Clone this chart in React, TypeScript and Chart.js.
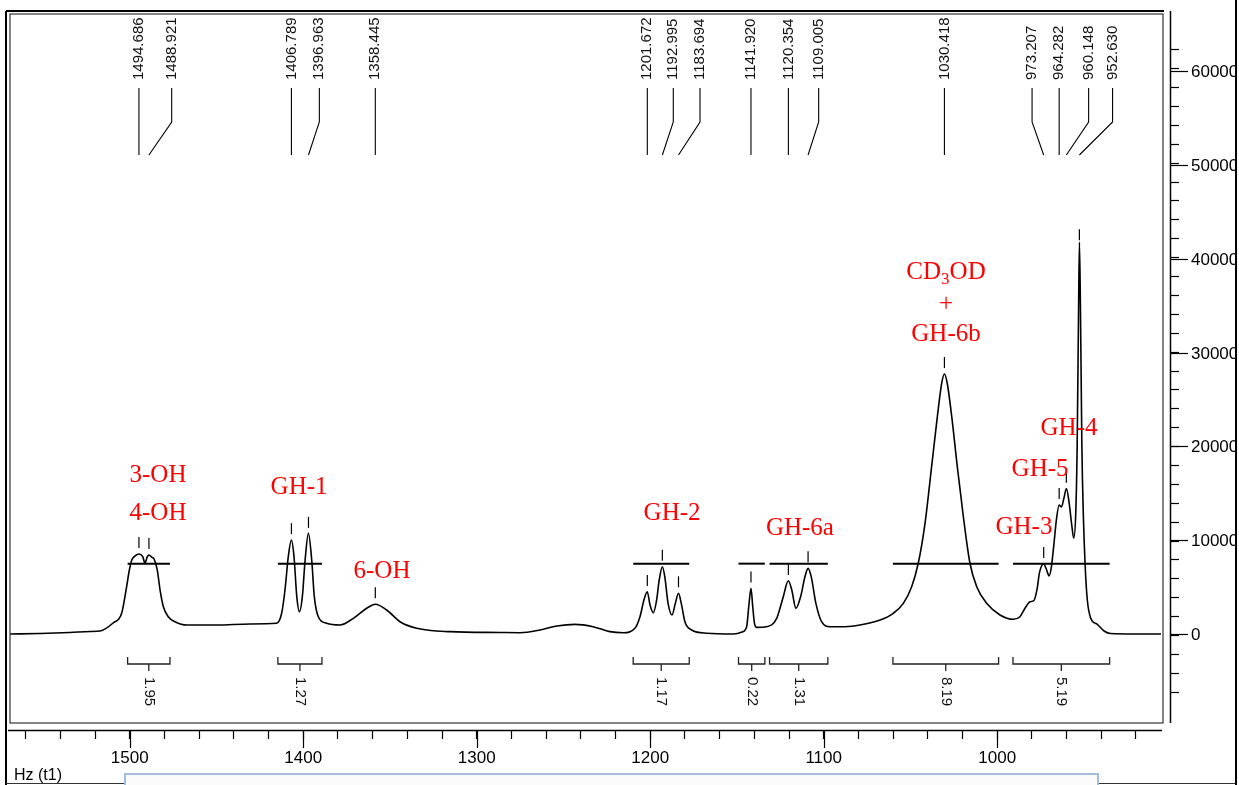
import { useEffect, useRef } from "react";
import { Chart, registerables } from "chart.js";

Chart.register(...registerables);

// Spectrum trace (Hz, intensity)
const spectrumHz = [
  1569, 1551.7, 1534.4, 1522.9, 1517.1, 1509.6, 1504.6, 1502.1, 1500.2, 1498.8, 1496.9, 1494.7, 1492.5, 1491.2,
  1489.9, 1488.9, 1487.1, 1486.0, 1484.1, 1482.5, 1480.6, 1477.8, 1473.9, 1467.1, 1449.9, 1430.7, 1415.3, 1412.4,
  1410.5, 1408.6, 1406.8, 1405.3, 1403.7, 1402.2, 1400.5, 1398.9, 1397.0, 1395.1, 1393.6, 1391.3, 1386.5, 1378.8,
  1371.1, 1363.4, 1358.4, 1351.9, 1344.2, 1334.6, 1315.4, 1286.6, 1275.0, 1263.5, 1253.9, 1243.4, 1232.9, 1223.2,
  1215.5, 1208.8, 1205.9, 1203.6, 1201.7, 1200.1, 1198.2, 1196.3, 1194.8, 1193.0, 1191.6, 1189.7, 1187.4, 1185.5,
  1183.7, 1182.1, 1180.0, 1176.1, 1167.4, 1152.1, 1147.1, 1144.4, 1143.2, 1141.9, 1140.9, 1139.9, 1138.6, 1132.9,
  1127.1, 1123.3, 1120.4, 1118.4, 1116.0, 1113.3, 1110.8, 1109.0, 1107.2, 1104.5, 1101.2, 1096.4, 1087.7, 1079.1,
  1067.5, 1059.9, 1054.1, 1049.3, 1045.5, 1041.6, 1037.8, 1034.5, 1032.0, 1030.4, 1028.8, 1026.2, 1023.0, 1019.5,
  1015.7, 1011.8, 1006.1, 998.4, 990.7, 986.9, 984.0, 981.1, 978.8, 977.0, 975.6, 973.2, 971.7, 970.1, 968.8,
  967.4, 965.8, 964.3, 963.0, 961.6, 960.1, 958.6, 957.0, 955.9, 954.7, 953.9, 953.1, 952.6, 952.0, 951.2, 950.4,
  949.3, 948.1, 946.2, 942.3, 938.4, 934.6, 921.2, 905.6,
];
const spectrumIntensity = [
  0, 50, 160, 270, 320, 1170, 2240, 4690, 6820, 7890, 8320, 8530, 8240, 7570,
  8210, 8420, 8160, 8000, 6820, 4690, 2910, 1840, 1310, 960, 960, 1070, 1140, 2240,
  4690, 8240, 10020, 8240, 3980, 2380, 3980, 7890, 10730, 7890, 3980, 1840, 1140, 960,
  1670, 2740, 3170, 2560, 1310, 610, 250, 160, 140, 430, 850, 1030, 780, 250,
  140, 610, 1840, 3620, 4510, 3090, 2270, 3620, 5760, 7170, 6110, 3270, 2030, 3270,
  4340, 3270, 1310, 430, 80, 0, 210, 780, 2910, 4870, 2910, 1140, 710, 780,
  1670, 3980, 5680, 4690, 2740, 3980, 6110, 7000, 6110, 3270, 1310, 780, 780, 960,
  1490, 2210, 3270, 5040, 7540, 11800, 17840, 23170, 26730, 27720, 26730, 23170, 17840, 12500,
  7540, 5040, 3270, 2030, 1570, 1840, 2740, 3440, 3570, 4800, 6570, 7460, 6930, 6200, 7100,
  9420, 12290, 13750, 13540, 14430, 15510, 14070, 11580, 10210, 13000, 20160, 34460, 41790, 34460, 20160, 13000,
  7280, 3700, 1740, 1020, 320, 50, 0, 0,
];

// Picked peaks and where their labels sit along the top
const peakHz = [
  1494.686, 1488.921, 1406.789, 1396.963, 1358.445, 1201.672, 1192.995, 1183.694, 1141.92, 1120.354, 1109.005,
  1030.418, 973.207, 964.282, 960.148, 952.63,
];
const peakLabelHz = [
  1494.686, 1475.8, 1406.789, 1390.7, 1358.445, 1201.672, 1186.7, 1171.3, 1141.92, 1120.354, 1102.9,
  1030.418, 979.9, 964.282, 947.3, 933.5,
];

// Integrals
const integralStartHz = [1501.2, 1414.6, 1209.8, 1149.1, 1131.2, 1060.1, 990.9];
const integralEndHz = [1476.8, 1389.2, 1177.5, 1133.9, 1097.6, 999.2, 935.2];
const integralValues = [1.95, 1.27, 1.17, 0.22, 1.31, 8.19, 5.19];
const integralLevel = 7500;

// Assignments (red)
const annotationText = ["3-OH", "4-OH", "GH-1", "6-OH", "GH-2", "GH-6a", "CD3OD", "+", "GH-6b", "GH-4", "GH-5", "GH-3"];
const annotationHz = [1483.7, 1483.7, 1402.4, 1354.6, 1187.4, 1113.7, 1029.5, 1029.5, 1029.5, 958.6, 975.3, 984.6];
const annotationLevel = [17100, 13000, 15800, 6800, 13000, 11400, 38700, 35300, 32100, 22100, 17700, 11500];

// Axes
const xMinHz = 900.4;
const xMaxHz = 1569;
const xMinorStep = 20;
const xMajorStep = 100;
const yMin = -10235;
const yMax = 66311;
const yMinorStep = 2000;
const yMajorStep = 10000;
const yTickLabels = ["0", "10000", "20000", "30000", "40000", "50000", "60000"];
const xAxisTitle = "Hz (t1)";

const SANS = '"Liberation Sans", Arial, sans-serif';
const SERIF = '"Liberation Serif", "Times New Roman", serif';

function valueAt(hz: number): number {
  for (let i = 0; i < spectrumHz.length - 1; i++) {
    const a = spectrumHz[i];
    const b = spectrumHz[i + 1];
    if ((hz <= a && hz >= b) || (hz >= a && hz <= b)) {
      const t = a === b ? 0 : (hz - a) / (b - a);
      return spectrumIntensity[i] + t * (spectrumIntensity[i + 1] - spectrumIntensity[i]);
    }
  }
  return 0;
}

function line(ctx: CanvasRenderingContext2D, x1: number, y1: number, x2: number, y2: number) {
  ctx.beginPath();
  ctx.moveTo(x1, y1);
  ctx.lineTo(x2, y2);
  ctx.stroke();
}

const decorPlugin = {
  id: "nmrDecor",
  beforeDraw(chart: any) {
    const ctx = chart.ctx;
    ctx.save();
    ctx.fillStyle = "#ffffff";
    ctx.fillRect(0, 0, chart.width, chart.height);
    ctx.restore();
  },
  afterDraw(chart: any) {
    const ctx: CanvasRenderingContext2D = chart.ctx;
    const xs = chart.scales.x;
    const ys = chart.scales.y;
    const W = chart.width;
    const H = chart.height;
    const frameRight = 1163;
    const frameBottom = 723;
    ctx.save();

    // major tick extensions + y labels
    ctx.strokeStyle = "#000";
    ctx.lineWidth = 1.2;
    for (let v = Math.ceil(xMinHz / xMajorStep) * xMajorStep; v <= xMaxHz; v += xMajorStep) {
      const px = Math.round(xs.getPixelForValue(v)) + 0.5;
      line(ctx, px, xs.top, px, xs.top + 18);
    }
    ctx.fillStyle = "#000";
    ctx.font = `17px ${SANS}`;
    ctx.textAlign = "left";
    ctx.textBaseline = "middle";
    yTickLabels.forEach((lab) => {
      const v = Number(lab);
      const py = Math.round(ys.getPixelForValue(v)) + 0.5;
      line(ctx, ys.left, py, ys.left + 18, py);
      ctx.fillText(lab, ys.left + 21, py + 1);
    });

    // axis lines
    ctx.lineWidth = 1.5;
    line(ctx, 8, xs.top + 0.5, frameRight - 1, xs.top + 0.5);
    line(ctx, ys.left + 0.5, 11, ys.left + 0.5, frameBottom);

    // frame
    ctx.strokeStyle = "#000";
    ctx.lineWidth = 2;
    line(ctx, 6, 11, frameRight + 1, 11);
    line(ctx, 6, 11, 6, H);
    ctx.strokeStyle = "#333";
    ctx.lineWidth = 1.2;
    ctx.strokeRect(10, 14, frameRight - 10, frameBottom - 14);

    // integral level lines
    ctx.strokeStyle = "#000";
    ctx.lineWidth = 2;
    const ly = ys.getPixelForValue(integralLevel);
    for (let i = 0; i < integralValues.length; i++) {
      line(ctx, xs.getPixelForValue(integralStartHz[i]), ly, xs.getPixelForValue(integralEndHz[i]), ly);
    }

    // integral brackets + values
    ctx.lineWidth = 1.3;
    ctx.strokeStyle = "#222";
    ctx.fillStyle = "#111";
    ctx.font = `15px ${SANS}`;
    ctx.textAlign = "left";
    ctx.textBaseline = "middle";
    for (let i = 0; i < integralValues.length; i++) {
      const a = xs.getPixelForValue(integralStartHz[i]);
      const b = xs.getPixelForValue(integralEndHz[i]);
      const c = (a + b) / 2;
      ctx.beginPath();
      ctx.moveTo(a, 657);
      ctx.lineTo(a, 664);
      ctx.lineTo(b, 664);
      ctx.lineTo(b, 657);
      ctx.stroke();
      line(ctx, c, 664, c, 671);
      ctx.save();
      ctx.translate(c, 677);
      ctx.rotate(Math.PI / 2);
      ctx.fillText(integralValues[i].toFixed(2), 0, 0);
      ctx.restore();
    }

    // peak labels with leaders
    ctx.strokeStyle = "#000";
    ctx.lineWidth = 1.1;
    ctx.fillStyle = "#111";
    ctx.font = `15px ${SANS}`;
    for (let i = 0; i < peakHz.length; i++) {
      const px = xs.getPixelForValue(peakHz[i]);
      const lx = xs.getPixelForValue(peakLabelHz[i]);
      ctx.beginPath();
      ctx.moveTo(lx, 88);
      ctx.lineTo(lx, 122);
      ctx.lineTo(px, 155);
      ctx.stroke();
      ctx.save();
      ctx.translate(lx, 80);
      ctx.rotate(-Math.PI / 2);
      ctx.textAlign = "left";
      ctx.textBaseline = "middle";
      ctx.fillText(peakHz[i].toFixed(3), 0, 0);
      ctx.restore();
      const top = ys.getPixelForValue(valueAt(peakHz[i]));
      ctx.lineWidth = 1.2;
      line(ctx, px, top - 17, px, top - 6);
      ctx.lineWidth = 1.1;
    }

    // red assignments
    ctx.fillStyle = "#ff0000";
    ctx.textBaseline = "alphabetic";
    for (let i = 0; i < annotationText.length; i++) {
      const cx = xs.getPixelForValue(annotationHz[i]);
      const cy = ys.getPixelForValue(annotationLevel[i]) + 8;
      const t = annotationText[i];
      if (t === "CD3OD") {
        ctx.font = `25px ${SERIF}`;
        const w1 = ctx.measureText("CD").width;
        const w3 = ctx.measureText("OD").width;
        ctx.font = `17px ${SERIF}`;
        const w2 = ctx.measureText("3").width;
        let x0 = cx - (w1 + w2 + w3) / 2;
        ctx.textAlign = "left";
        ctx.font = `25px ${SERIF}`;
        ctx.fillText("CD", x0, cy);
        x0 += w1;
        ctx.font = `17px ${SERIF}`;
        ctx.fillText("3", x0, cy + 5);
        x0 += w2;
        ctx.font = `25px ${SERIF}`;
        ctx.fillText("OD", x0, cy);
      } else {
        ctx.font = `25px ${SERIF}`;
        ctx.textAlign = "center";
        ctx.fillText(t, cx, cy);
      }
    }

    // axis title and bottom bar
    ctx.fillStyle = "#000";
    ctx.font = `16px ${SANS}`;
    ctx.textAlign = "left";
    ctx.textBaseline = "middle";
    ctx.fillText(xAxisTitle, 14, 776);
    ctx.strokeStyle = "#333";
    ctx.lineWidth = 1.2;
    line(ctx, 6, H - 1.5, W - 3, H - 1.5);
    ctx.fillStyle = "#fbfbfb";
    ctx.fillRect(125, 774, 973, 20);
    ctx.strokeStyle = "#a3bde0";
    ctx.lineWidth = 2;
    ctx.strokeRect(125, 774, 973, 20);

    // right edge border
    ctx.fillStyle = "#fff";
    ctx.fillRect(W - 4, 0, 4, H);
    ctx.strokeStyle = "#000";
    ctx.lineWidth = 2;
    line(ctx, W - 3, 0, W - 3, H);
    ctx.restore();
  },
};

export default function App() {
  const canvasRef = useRef<HTMLCanvasElement | null>(null);

  useEffect(() => {
    const canvas = canvasRef.current;
    if (!canvas) return;
    const data = spectrumHz.map((hz, i) => ({ x: hz, y: spectrumIntensity[i] }));
    const chart = new Chart(canvas, {
      type: "line",
      data: {
        datasets: [
          {
            data,
            borderColor: "#000",
            borderWidth: 1.6,
            pointRadius: 0,
            fill: false,
            cubicInterpolationMode: "monotone",
            borderJoinStyle: "round",
          },
        ],
      },
      options: {
        animation: false,
        responsive: false,
        devicePixelRatio: 1,
        layout: { padding: { left: 10, top: 12, right: 0, bottom: 0 } },
        plugins: { legend: { display: false }, tooltip: { enabled: false } },
        events: [],
        scales: {
          x: {
            type: "linear",
            position: "bottom",
            reverse: true,
            min: xMinHz,
            max: xMaxHz,
            border: { display: false },
            grid: { drawOnChartArea: false, drawTicks: true, tickLength: 9, tickColor: "#000", tickWidth: 1.2 },
            ticks: {
              stepSize: xMinorStep,
              autoSkip: false,
              maxRotation: 0,
              minRotation: 0,
              includeBounds: false,
              padding: 9,
              color: "#000",
              font: { family: SANS, size: 17 },
              callback: (v: any) => (Number(v) % xMajorStep === 0 ? String(v) : ""),
            },
            afterFit: (s: any) => {
              s.height = 55;
            },
          },
          y: {
            type: "linear",
            position: "right",
            min: yMin,
            max: yMax,
            border: { display: false },
            grid: { drawOnChartArea: false, drawTicks: true, tickLength: 9, tickColor: "#000", tickWidth: 1.2 },
            ticks: {
              display: false,
              stepSize: yMinorStep,
              autoSkip: false,
              includeBounds: false,
            },
            afterBuildTicks: (s: any) => {
              s.ticks = s.ticks.filter((t: any) => t.value >= -8000 && t.value <= 64000);
            },
            afterFit: (s: any) => {
              s.width = 69;
            },
          },
        },
      },
      plugins: [decorPlugin],
    } as any);
    return () => chart.destroy();
  }, []);

  return (
    <div style={{ position: "absolute", left: 0, top: 0, width: 1239, height: 785, background: "#fff" }}>
      <canvas ref={canvasRef} width={1239} height={785} style={{ display: "block" }} />
    </div>
  );
}
